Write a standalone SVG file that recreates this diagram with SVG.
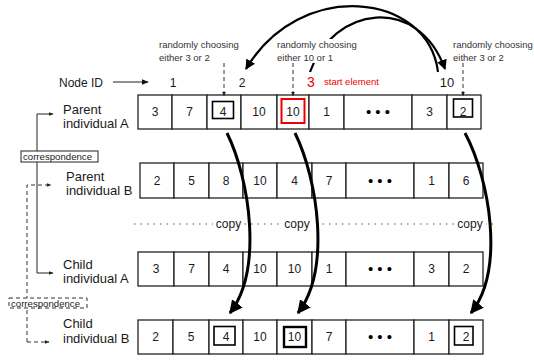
<svg xmlns="http://www.w3.org/2000/svg" width="534" height="360" viewBox="0 0 534 360">
<style>
text{font-family:"Liberation Sans",Arial,sans-serif;fill:#1a1a1a}
.cell{fill:#fff;stroke:#222;stroke-width:1.3}
.v{font-size:12px;text-anchor:middle}
.dots{font-size:15px;text-anchor:middle;fill:#000}
.lab{font-size:13px}
.note{font-size:9.5px;fill:#333}
.red{fill:#e00}
.thick{fill:none;stroke:#000;stroke-width:3}
.arc{fill:none;stroke:#000;stroke-width:2.2}
.thin{fill:none;stroke:#222;stroke-width:1}
.dash{fill:none;stroke:#333;stroke-width:1;stroke-dasharray:4 3}
.dot{fill:none;stroke:#555;stroke-width:1.2;stroke-dasharray:1.5 5}
.inner{fill:none;stroke:#000;stroke-width:1.6}
.cor{font-size:9px}
</style>
<defs>
<marker id="big" viewBox="0 0 10 10" refX="9" refY="5" markerWidth="4.6" markerHeight="4.6" orient="auto" markerUnits="strokeWidth"><path d="M0,0 L10,5 L0,10 z" fill="#000"/></marker>
<marker id="mid" viewBox="0 0 10 10" refX="9" refY="5" markerWidth="4.5" markerHeight="4.5" orient="auto" markerUnits="strokeWidth"><path d="M0,0 L10,5 L0,10 z" fill="#000"/></marker>
<marker id="sm" viewBox="0 0 10 10" refX="9" refY="5" markerWidth="5" markerHeight="5" orient="auto" markerUnits="strokeWidth"><path d="M0,1 L10,5 L0,9 z" fill="#222"/></marker>
<marker id="nid" viewBox="0 0 10 10" refX="9" refY="5" markerWidth="7" markerHeight="7" orient="auto" markerUnits="strokeWidth"><path d="M0,1 L10,5 L0,9 z" fill="#111"/></marker>
</defs>

<!-- header -->
<g id="node-id-label">
<text x="59" y="87" style="font-size:12px">Node ID</text>
</g>
<g id="node-ids">
<text x="173" y="87" style="font-size:12px" text-anchor="middle">1</text>
<text x="242" y="87" style="font-size:12px" text-anchor="middle">2</text>
<text x="311" y="87" style="font-size:14px" text-anchor="middle" class="red">3</text>
<text x="324" y="85" class="note red">start element</text>
<text x="447" y="87" style="font-size:13px" text-anchor="middle">10</text>
</g>

<!-- row labels -->
<g id="label-parent-a"><text class="lab" x="63" y="114">Parent</text><text class="lab" x="63" y="128">individual A</text></g>
<g id="label-parent-b"><text class="lab" x="66" y="181">Parent</text><text class="lab" x="66" y="195">individual B</text></g>
<g id="label-child-a"><text class="lab" x="63" y="269">Child</text><text class="lab" x="63" y="283">individual A</text></g>
<g id="label-child-b"><text class="lab" x="63" y="328">Child</text><text class="lab" x="63" y="343">individual B</text></g>

<!-- Parent A -->
<g id="parent-a">
<rect class="cell" x="138" y="95" width="34" height="34"/>
<rect class="cell" x="172" y="95" width="35" height="34"/>
<rect class="cell" x="207" y="95" width="34" height="34"/>
<rect class="cell" x="241" y="95" width="36" height="34"/>
<rect class="cell" x="277" y="95" width="32" height="34"/>
<rect class="cell" x="309" y="95" width="35" height="34"/>
<rect class="cell" x="344" y="95" width="68" height="34"/>
<rect class="cell" x="412" y="95" width="35" height="34"/>
<rect class="cell" x="447" y="95" width="34" height="34"/>
<text class="v" x="155" y="116">3</text>
<text class="v" x="189.5" y="116">7</text>
<text class="v" x="223" y="116">4</text>
<text class="v" x="259" y="116">10</text>
<text class="v" x="293" y="116">10</text>
<text class="v" x="326.5" y="116">1</text>
<text class="dots" x="378" y="117">• • •</text>
<text class="v" x="429.5" y="116">3</text>
<text class="v" x="463" y="116">2</text>
<rect class="inner" x="212.5" y="101.5" width="21" height="17"/>
<rect fill="none" stroke="#e00" stroke-width="2" x="281.5" y="99" width="23" height="24"/>
<rect class="inner" x="453.5" y="99" width="19" height="18"/>
</g>

<!-- Parent B -->
<g id="parent-b">
<rect class="cell" x="140" y="163" width="34" height="35"/>
<rect class="cell" x="174" y="163" width="35" height="35"/>
<rect class="cell" x="209" y="163" width="34" height="35"/>
<rect class="cell" x="243" y="163" width="34" height="35"/>
<rect class="cell" x="277" y="163" width="35" height="35"/>
<rect class="cell" x="312" y="163" width="34" height="35"/>
<rect class="cell" x="346" y="163" width="68" height="35"/>
<rect class="cell" x="414" y="163" width="35" height="35"/>
<rect class="cell" x="449" y="163" width="34" height="35"/>
<text class="v" x="157" y="185">2</text>
<text class="v" x="191.5" y="185">5</text>
<text class="v" x="226" y="185">8</text>
<text class="v" x="260" y="185">10</text>
<text class="v" x="294.5" y="185">4</text>
<text class="v" x="329" y="185">7</text>
<text class="dots" x="380" y="186">• • •</text>
<text class="v" x="431.5" y="185">1</text>
<text class="v" x="466" y="185">6</text>
</g>

<!-- Child A -->
<g id="child-a">
<rect class="cell" x="138" y="252" width="36" height="34"/>
<rect class="cell" x="174" y="252" width="35" height="34"/>
<rect class="cell" x="209" y="252" width="34" height="34"/>
<rect class="cell" x="243" y="252" width="34" height="34"/>
<rect class="cell" x="277" y="252" width="35" height="34"/>
<rect class="cell" x="312" y="252" width="34" height="34"/>
<rect class="cell" x="346" y="252" width="68" height="34"/>
<rect class="cell" x="414" y="252" width="35" height="34"/>
<rect class="cell" x="449" y="252" width="34" height="34"/>
<text class="v" x="156" y="273">3</text>
<text class="v" x="191.5" y="273">7</text>
<text class="v" x="226" y="273">4</text>
<text class="v" x="260" y="273">10</text>
<text class="v" x="294.5" y="273">10</text>
<text class="v" x="329" y="273">1</text>
<text class="dots" x="380" y="274">• • •</text>
<text class="v" x="431.5" y="273">3</text>
<text class="v" x="466" y="273">2</text>
</g>

<!-- Child B -->
<g id="child-b">
<rect class="cell" x="138" y="320" width="35" height="34"/>
<rect class="cell" x="173" y="320" width="36" height="34"/>
<rect class="cell" x="209" y="320" width="34" height="34"/>
<rect class="cell" x="243" y="320" width="34" height="34"/>
<rect class="cell" x="277" y="320" width="35" height="34"/>
<rect class="cell" x="312" y="320" width="34" height="34"/>
<rect class="cell" x="346" y="320" width="68" height="34"/>
<rect class="cell" x="414" y="320" width="35" height="34"/>
<rect class="cell" x="449" y="320" width="34" height="34"/>
<text class="v" x="155.5" y="341">2</text>
<text class="v" x="191" y="341">5</text>
<text class="v" x="226" y="341">4</text>
<text class="v" x="260" y="341">10</text>
<text class="v" x="294.5" y="341">10</text>
<text class="v" x="329" y="341">7</text>
<text class="dots" x="380" y="342">• • •</text>
<text class="v" x="431.5" y="341">1</text>
<text class="v" x="466" y="341">2</text>
<rect class="inner" x="214" y="326.5" width="21" height="18.5"/>
<rect fill="none" stroke="#000" stroke-width="2.4" x="284" y="327" width="22" height="20"/>
<rect class="inner" x="454.5" y="326.5" width="18.5" height="18.5"/>
</g>

<!-- connectors -->
<g id="connectors">
<line class="thin" x1="113" y1="82" x2="148" y2="82" marker-end="url(#nid)"/>
<line class="dash" x1="224" y1="63" x2="224" y2="96" marker-end="url(#sm)"/>
<line class="dash" x1="293" y1="63" x2="293" y2="96" marker-end="url(#sm)"/>
<line class="dash" x1="463" y1="63" x2="463" y2="96" marker-end="url(#sm)"/>
<path class="arc" d="M310,72 C333,6 418,-6 445,69" marker-end="url(#big)"/>
<path class="arc" d="M438,72 C428,-8 300,-22 246,69" marker-end="url(#big)"/>
<line class="dot" x1="134" y1="224" x2="496" y2="224"/>
<polyline class="thin" points="37,273 37,114 53,114" marker-end="url(#sm)"/>
<line class="thin" x1="37" y1="273" x2="53" y2="273" marker-end="url(#sm)"/>
<polyline class="dash" points="27,342 27,185 51,185" marker-end="url(#sm)"/>
<line class="dash" x1="27" y1="342" x2="49" y2="342" marker-end="url(#sm)"/>
</g>

<g id="note-1"><text class="note" x="159" y="48">randomly choosing</text><text class="note" x="159" y="61">either 3 or 2</text></g>
<g id="note-2"><rect x="276" y="39" width="86" height="24" fill="#fff"/><text class="note" x="277" y="48">randomly choosing</text><text class="note" x="277" y="61">either 10 or 1</text></g>
<g id="note-3"><text class="note" x="453" y="48">randomly choosing</text><text class="note" x="453" y="61">either 3 or 2</text></g>

<g id="copy-labels">
<rect x="213" y="216" width="31" height="14" fill="#fff"/><text x="228.5" y="228" style="font-size:12px" text-anchor="middle">copy</text>
<rect x="282" y="216" width="31" height="14" fill="#fff"/><text x="297" y="228" style="font-size:12px" text-anchor="middle">copy</text>
<rect x="455" y="216" width="31" height="14" fill="#fff"/><text x="470" y="228" style="font-size:12px" text-anchor="middle">copy</text>
</g>

<g id="correspondence-1"><rect x="21" y="151" width="77" height="11" fill="#fff" stroke="#222" stroke-width="1"/><text class="cor" x="23" y="160" textLength="69" lengthAdjust="spacingAndGlyphs">correspondence</text></g>
<g id="correspondence-2"><rect x="9" y="298" width="78" height="10" fill="#fff" stroke="#333" stroke-width="1" stroke-dasharray="4 3"/><text class="cor" x="11" y="306.5" textLength="69" lengthAdjust="spacingAndGlyphs">correspondence</text></g>

<g id="copy-arrows">
<path class="thick" d="M227,133 C250,180 263,270 230,313" marker-end="url(#mid)"/>
<path class="thick" d="M295,133 C318,180 331,270 298,313" marker-end="url(#mid)"/>
<path class="thick" d="M465,133 C490,180 505,270 471,313" marker-end="url(#mid)"/>
</g>
</svg>
